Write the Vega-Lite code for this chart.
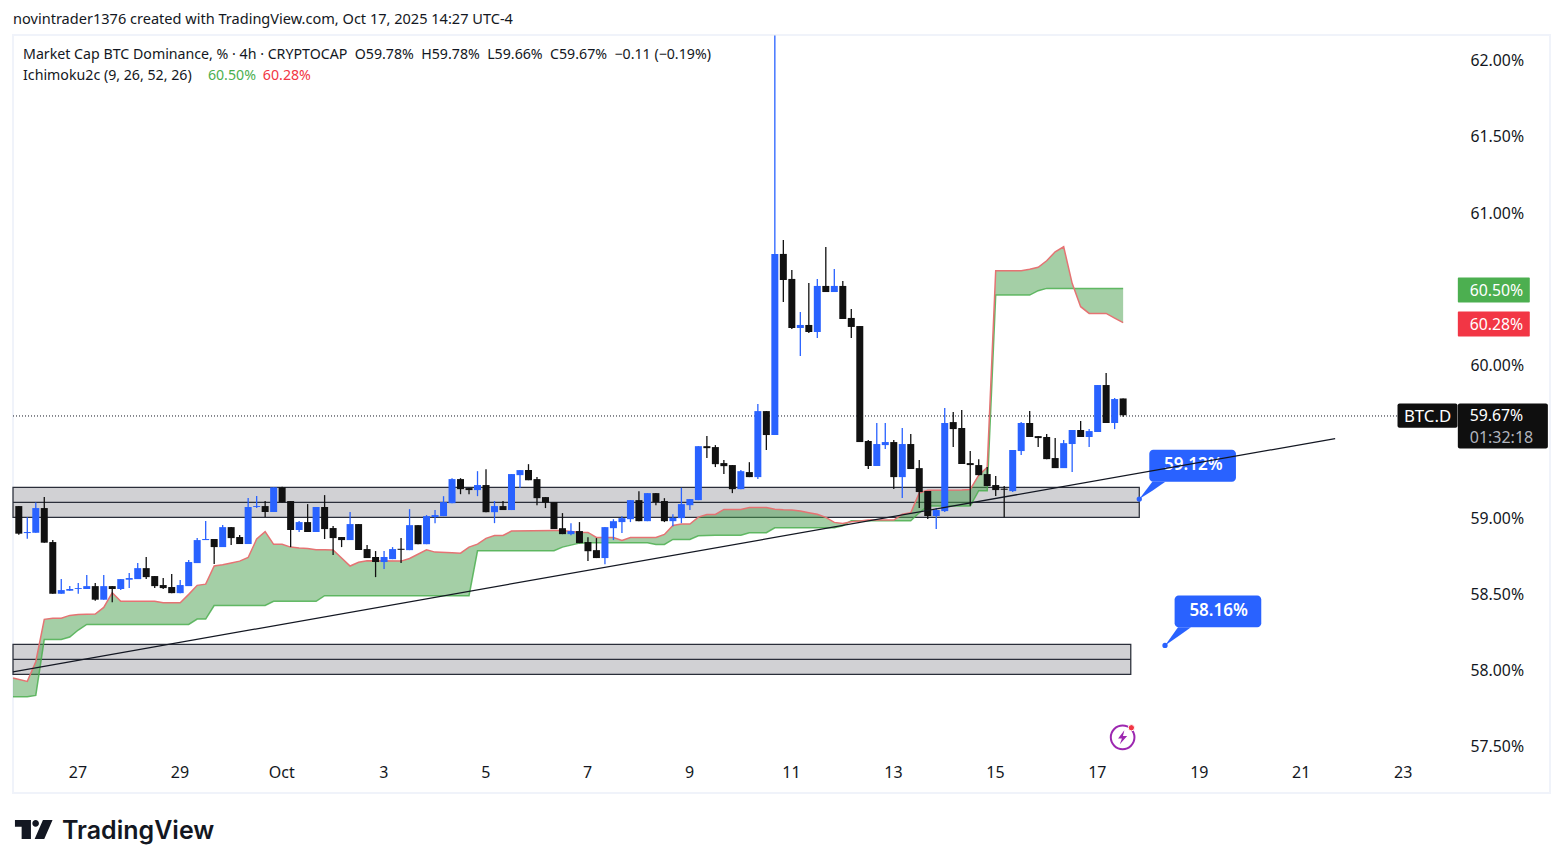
{
  "$schema": "https://vega.github.io/schema/vega-lite/v6.json",
  "width": 1537,
  "height": 758,
  "autosize": "none",
  "padding": {"left": 13, "top": 35, "right": 13, "bottom": 75},
  "background": "#ffffff",
  "title": {"text": "novintrader1376 created with TradingView.com, Oct 17, 2025 14:27 UTC-4", "anchor": "start", "frame": "group", "offset": 7, "fontSize": 14.55, "fontWeight": "normal", "font": "Noto Sans", "color": "#131722"},
  "config": {
    "view": {"stroke": "#f0f3fa", "strokeWidth": 2},
    "font": "Noto Sans",
    "text": {"font": "Noto Sans"}
  },
  "datasets": {
    "candles": [
      {"bar":-7,"o":59.074,"h":59.074,"l":58.886,"c":58.893},
      {"bar":-6,"o":58.897,"h":59.0,"l":58.86,"c":58.904},
      {"bar":-5,"o":58.899,"h":59.098,"l":58.899,"c":59.061},
      {"bar":-4,"o":59.061,"h":59.133,"l":58.834,"c":58.834},
      {"bar":-3,"o":58.838,"h":58.851,"l":58.499,"c":58.499},
      {"bar":-2,"o":58.499,"h":58.595,"l":58.499,"c":58.523},
      {"bar":-1,"o":58.519,"h":58.549,"l":58.519,"c":58.53},
      {"bar":0,"o":58.53,"h":58.569,"l":58.499,"c":58.536},
      {"bar":1,"o":58.53,"h":58.622,"l":58.53,"c":58.549},
      {"bar":2,"o":58.549,"h":58.569,"l":58.453,"c":58.46},
      {"bar":3,"o":58.46,"h":58.622,"l":58.46,"c":58.549},
      {"bar":4,"o":58.549,"h":58.549,"l":58.444,"c":58.53},
      {"bar":5,"o":58.53,"h":58.595,"l":58.523,"c":58.595},
      {"bar":6,"o":58.591,"h":58.635,"l":58.536,"c":58.602},
      {"bar":7,"o":58.595,"h":58.7,"l":58.595,"c":58.667},
      {"bar":8,"o":58.667,"h":58.74,"l":58.595,"c":58.608},
      {"bar":9,"o":58.615,"h":58.615,"l":58.536,"c":58.549},
      {"bar":10,"o":58.556,"h":58.602,"l":58.53,"c":58.536},
      {"bar":11,"o":58.543,"h":58.628,"l":58.503,"c":58.503},
      {"bar":12,"o":58.503,"h":58.589,"l":58.503,"c":58.556},
      {"bar":13,"o":58.549,"h":58.72,"l":58.549,"c":58.707},
      {"bar":14,"o":58.7,"h":58.864,"l":58.7,"c":58.851},
      {"bar":15,"o":58.851,"h":58.976,"l":58.851,"c":58.858},
      {"bar":16,"o":58.858,"h":58.858,"l":58.694,"c":58.805},
      {"bar":17,"o":58.805,"h":58.95,"l":58.805,"c":58.936},
      {"bar":18,"o":58.936,"h":58.936,"l":58.818,"c":58.864},
      {"bar":19,"o":58.871,"h":58.884,"l":58.825,"c":58.825},
      {"bar":20,"o":58.825,"h":59.127,"l":58.825,"c":59.068},
      {"bar":21,"o":59.068,"h":59.14,"l":59.061,"c":59.074},
      {"bar":22,"o":59.074,"h":59.107,"l":59.002,"c":59.035},
      {"bar":23,"o":59.035,"h":59.197,"l":59.035,"c":59.197},
      {"bar":24,"o":59.197,"h":59.2,"l":59.098,"c":59.098},
      {"bar":25,"o":59.107,"h":59.107,"l":58.805,"c":58.917},
      {"bar":26,"o":58.917,"h":58.976,"l":58.904,"c":58.969},
      {"bar":27,"o":58.969,"h":59.087,"l":58.904,"c":58.904},
      {"bar":28,"o":58.904,"h":59.068,"l":58.904,"c":59.068},
      {"bar":29,"o":59.068,"h":59.146,"l":58.858,"c":58.923},
      {"bar":30,"o":58.93,"h":58.943,"l":58.753,"c":58.864},
      {"bar":31,"o":58.871,"h":58.871,"l":58.805,"c":58.851},
      {"bar":32,"o":58.851,"h":59.035,"l":58.851,"c":58.956},
      {"bar":33,"o":58.956,"h":58.956,"l":58.786,"c":58.786},
      {"bar":34,"o":58.792,"h":58.818,"l":58.733,"c":58.733},
      {"bar":35,"o":58.74,"h":58.779,"l":58.608,"c":58.707},
      {"bar":36,"o":58.707,"h":58.779,"l":58.661,"c":58.74},
      {"bar":37,"o":58.726,"h":58.805,"l":58.726,"c":58.792},
      {"bar":38,"o":58.794,"h":58.864,"l":58.7,"c":58.787},
      {"bar":39,"o":58.785,"h":59.054,"l":58.785,"c":58.949},
      {"bar":40,"o":58.949,"h":58.949,"l":58.824,"c":58.824},
      {"bar":41,"o":58.824,"h":59.015,"l":58.824,"c":59.008},
      {"bar":42,"o":59.002,"h":59.048,"l":58.962,"c":59.015},
      {"bar":43,"o":59.008,"h":59.139,"l":59.008,"c":59.1},
      {"bar":44,"o":59.093,"h":59.257,"l":59.093,"c":59.251},
      {"bar":45,"o":59.251,"h":59.257,"l":59.152,"c":59.185},
      {"bar":46,"o":59.192,"h":59.192,"l":59.152,"c":59.179},
      {"bar":47,"o":59.179,"h":59.303,"l":59.139,"c":59.212},
      {"bar":48,"o":59.212,"h":59.316,"l":59.034,"c":59.034},
      {"bar":49,"o":59.034,"h":59.107,"l":58.962,"c":59.074},
      {"bar":50,"o":59.074,"h":59.107,"l":59.048,"c":59.048},
      {"bar":51,"o":59.048,"h":59.284,"l":59.048,"c":59.284},
      {"bar":52,"o":59.277,"h":59.31,"l":59.192,"c":59.31},
      {"bar":53,"o":59.31,"h":59.349,"l":59.244,"c":59.244},
      {"bar":54,"o":59.251,"h":59.264,"l":59.08,"c":59.126},
      {"bar":55,"o":59.133,"h":59.133,"l":59.061,"c":59.096},
      {"bar":56,"o":59.1,"h":59.1,"l":58.923,"c":58.923},
      {"bar":57,"o":58.929,"h":59.028,"l":58.89,"c":58.89},
      {"bar":58,"o":58.89,"h":58.962,"l":58.883,"c":58.91},
      {"bar":59,"o":58.91,"h":58.969,"l":58.831,"c":58.831},
      {"bar":60,"o":58.838,"h":58.87,"l":58.713,"c":58.778},
      {"bar":61,"o":58.785,"h":58.864,"l":58.733,"c":58.733},
      {"bar":62,"o":58.733,"h":58.936,"l":58.693,"c":58.936},
      {"bar":63,"o":58.929,"h":58.988,"l":58.851,"c":58.975},
      {"bar":64,"o":58.969,"h":59.008,"l":58.897,"c":58.995},
      {"bar":65,"o":58.988,"h":59.113,"l":58.969,"c":59.113},
      {"bar":66,"o":59.113,"h":59.172,"l":58.975,"c":58.975},
      {"bar":67,"o":58.975,"h":59.159,"l":58.975,"c":59.159},
      {"bar":68,"o":59.159,"h":59.159,"l":59.08,"c":59.1},
      {"bar":69,"o":59.107,"h":59.126,"l":58.969,"c":58.975},
      {"bar":70,"o":58.975,"h":59.021,"l":58.942,"c":58.997},
      {"bar":71,"o":58.995,"h":59.194,"l":58.962,"c":59.087},
      {"bar":72,"o":59.08,"h":59.12,"l":59.048,"c":59.12},
      {"bar":73,"o":59.113,"h":59.467,"l":59.113,"c":59.467},
      {"bar":74,"o":59.467,"h":59.533,"l":59.389,"c":59.454},
      {"bar":75,"o":59.461,"h":59.474,"l":59.33,"c":59.349},
      {"bar":76,"o":59.356,"h":59.376,"l":59.284,"c":59.336},
      {"bar":77,"o":59.343,"h":59.343,"l":59.159,"c":59.185},
      {"bar":78,"o":59.185,"h":59.31,"l":59.185,"c":59.303},
      {"bar":79,"o":59.297,"h":59.362,"l":59.264,"c":59.264},
      {"bar":80,"o":59.264,"h":59.743,"l":59.251,"c":59.697},
      {"bar":81,"o":59.697,"h":59.697,"l":59.442,"c":59.54},
      {"bar":82,"o":59.54,"h":62.16,"l":59.54,"c":60.728},
      {"bar":83,"o":60.728,"h":60.819,"l":60.413,"c":60.557},
      {"bar":84,"o":60.564,"h":60.623,"l":60.235,"c":60.242},
      {"bar":85,"o":60.242,"h":60.347,"l":60.058,"c":60.262},
      {"bar":86,"o":60.262,"h":60.537,"l":60.209,"c":60.216},
      {"bar":87,"o":60.216,"h":60.564,"l":60.176,"c":60.518},
      {"bar":88,"o":60.518,"h":60.773,"l":60.478,"c":60.478},
      {"bar":89,"o":60.478,"h":60.629,"l":60.478,"c":60.518},
      {"bar":90,"o":60.518,"h":60.55,"l":60.301,"c":60.301},
      {"bar":91,"o":60.308,"h":60.367,"l":60.176,"c":60.249},
      {"bar":92,"o":60.255,"h":60.255,"l":59.494,"c":59.494},
      {"bar":93,"o":59.501,"h":59.507,"l":59.317,"c":59.337},
      {"bar":94,"o":59.337,"h":59.619,"l":59.337,"c":59.481},
      {"bar":95,"o":59.474,"h":59.619,"l":59.448,"c":59.494},
      {"bar":96,"o":59.494,"h":59.507,"l":59.186,"c":59.264},
      {"bar":97,"o":59.264,"h":59.586,"l":59.127,"c":59.481},
      {"bar":98,"o":59.481,"h":59.547,"l":59.317,"c":59.317},
      {"bar":99,"o":59.323,"h":59.376,"l":59.061,"c":59.166},
      {"bar":100,"o":59.173,"h":59.173,"l":58.989,"c":59.009},
      {"bar":101,"o":59.009,"h":59.061,"l":58.923,"c":59.048},
      {"bar":102,"o":59.041,"h":59.717,"l":59.035,"c":59.619},
      {"bar":103,"o":59.625,"h":59.691,"l":59.461,"c":59.579},
      {"bar":104,"o":59.586,"h":59.704,"l":59.35,"c":59.35},
      {"bar":105,"o":59.356,"h":59.435,"l":59.076,"c":59.343},
      {"bar":106,"o":59.343,"h":59.382,"l":59.277,"c":59.277},
      {"bar":107,"o":59.284,"h":59.33,"l":59.205,"c":59.205},
      {"bar":108,"o":59.212,"h":59.271,"l":59.14,"c":59.179},
      {"bar":109,"o":59.188,"h":59.205,"l":59.0,"c":59.181},
      {"bar":110,"o":59.172,"h":59.442,"l":59.166,"c":59.442},
      {"bar":111,"o":59.435,"h":59.625,"l":59.409,"c":59.619},
      {"bar":112,"o":59.619,"h":59.697,"l":59.527,"c":59.527},
      {"bar":113,"o":59.533,"h":59.533,"l":59.461,"c":59.52},
      {"bar":114,"o":59.527,"h":59.546,"l":59.382,"c":59.382},
      {"bar":115,"o":59.389,"h":59.52,"l":59.323,"c":59.323},
      {"bar":116,"o":59.323,"h":59.507,"l":59.323,"c":59.487},
      {"bar":117,"o":59.481,"h":59.573,"l":59.297,"c":59.573},
      {"bar":118,"o":59.573,"h":59.632,"l":59.527,"c":59.527},
      {"bar":119,"o":59.527,"h":59.579,"l":59.461,"c":59.566},
      {"bar":120,"o":59.56,"h":59.868,"l":59.56,"c":59.868},
      {"bar":121,"o":59.868,"h":59.947,"l":59.619,"c":59.619},
      {"bar":122,"o":59.619,"h":59.783,"l":59.579,"c":59.776},
      {"bar":123,"o":59.78,"h":59.78,"l":59.66,"c":59.67}
    ],
    "cloud": [
      {"bar":-7.68,"a":57.946,"b":57.823},{"bar":-6,"a":57.924,"b":57.823},{"bar":-5,"a":58.053,"b":57.832},
      {"bar":-4,"a":58.331,"b":58.199},{"bar":-3,"a":58.339,"b":58.199},{"bar":-2,"a":58.339,"b":58.199},
      {"bar":-1,"a":58.357,"b":58.215},{"bar":0,"a":58.363,"b":58.261},{"bar":1,"a":58.365,"b":58.298},
      {"bar":2,"a":58.366,"b":58.298},{"bar":3,"a":58.409,"b":58.298},{"bar":4,"a":58.506,"b":58.298},
      {"bar":5,"a":58.449,"b":58.298},{"bar":9,"a":58.449,"b":58.298},{"bar":10,"a":58.44,"b":58.298},
      {"bar":12,"a":58.44,"b":58.298},{"bar":13,"a":58.495,"b":58.298},{"bar":14,"a":58.554,"b":58.333},
      {"bar":15,"a":58.562,"b":58.333},{"bar":16,"a":58.681,"b":58.422},{"bar":17,"a":58.689,"b":58.422},
      {"bar":18,"a":58.701,"b":58.422},{"bar":19,"a":58.713,"b":58.422},{"bar":20,"a":58.737,"b":58.422},
      {"bar":21,"a":58.858,"b":58.422},{"bar":22,"a":58.906,"b":58.422},{"bar":23,"a":58.823,"b":58.449},
      {"bar":24,"a":58.823,"b":58.449},{"bar":25,"a":58.805,"b":58.449},{"bar":26,"a":58.799,"b":58.449},
      {"bar":27,"a":58.796,"b":58.449},{"bar":28,"a":58.788,"b":58.449},{"bar":29,"a":58.787,"b":58.486},
      {"bar":30,"a":58.786,"b":58.486},{"bar":32,"a":58.681,"b":58.486},{"bar":33,"a":58.705,"b":58.486},
      {"bar":34,"a":58.716,"b":58.486},{"bar":38,"a":58.713,"b":58.486},{"bar":39,"a":58.73,"b":58.486},
      {"bar":41,"a":58.787,"b":58.486},{"bar":42,"a":58.772,"b":58.486},{"bar":44,"a":58.768,"b":58.486},
      {"bar":45,"a":58.765,"b":58.486},{"bar":46,"a":58.805,"b":58.486},{"bar":47,"a":58.824,"b":58.781},
      {"bar":48,"a":58.862,"b":58.781},{"bar":49,"a":58.881,"b":58.781},{"bar":50,"a":58.881,"b":58.781},
      {"bar":51,"a":58.91,"b":58.781},{"bar":56,"a":58.914,"b":58.781},{"bar":57,"a":58.914,"b":58.805},
      {"bar":58,"a":58.908,"b":58.818},{"bar":59,"a":58.903,"b":58.831},{"bar":60,"a":58.901,"b":58.833},
      {"bar":61,"a":58.868,"b":58.833},{"bar":63,"a":58.868,"b":58.833},{"bar":64,"a":58.848,"b":58.833},
      {"bar":65,"a":58.868,"b":58.833},{"bar":67,"a":58.868,"b":58.833},{"bar":68,"a":58.868,"b":58.822},
      {"bar":69,"a":58.888,"b":58.822},{"bar":70,"a":58.947,"b":58.855},{"bar":71,"a":58.956,"b":58.855},
      {"bar":72,"a":58.956,"b":58.855},{"bar":73,"a":59.002,"b":58.879},{"bar":74,"a":59.019,"b":58.881},
      {"bar":75,"a":59.019,"b":58.883},{"bar":76,"a":59.052,"b":58.883},{"bar":78,"a":59.052,"b":58.883},
      {"bar":79,"a":59.065,"b":58.899},{"bar":81,"a":59.065,"b":58.899},{"bar":82,"a":59.054,"b":58.932},
      {"bar":83,"a":59.05,"b":58.932},{"bar":84,"a":59.048,"b":58.932},{"bar":85,"a":59.041,"b":58.932},
      {"bar":86,"a":59.03,"b":58.932},{"bar":87,"a":59.02,"b":58.932},{"bar":88,"a":59.0,"b":58.932},
      {"bar":89,"a":58.967,"b":58.932},{"bar":90,"a":58.96,"b":58.945},{"bar":91,"a":58.971,"b":58.978},
      {"bar":92,"a":58.976,"b":58.978},{"bar":93,"a":58.982,"b":58.978},{"bar":96,"a":58.982,"b":58.978},
      {"bar":97,"a":59.02,"b":58.978},{"bar":98,"a":59.03,"b":58.978},{"bar":99,"a":59.16,"b":59.03},
      {"bar":100,"a":59.178,"b":59.074},{"bar":104,"a":59.18,"b":59.074},{"bar":105,"a":59.183,"b":59.074},
      {"bar":106,"a":59.277,"b":59.175},{"bar":107,"a":59.328,"b":59.175},{"bar":108,"a":60.618,"b":60.458},
      {"bar":111,"a":60.618,"b":60.458},{"bar":112,"a":60.627,"b":60.458},{"bar":113,"a":60.64,"b":60.487},
      {"bar":114,"a":60.683,"b":60.502},{"bar":115,"a":60.742,"b":60.502},{"bar":116,"a":60.775,"b":60.502},
      {"bar":117,"a":60.535,"b":60.502},{"bar":118,"a":60.382,"b":60.502},{"bar":119,"a":60.338,"b":60.502},
      {"bar":121,"a":60.338,"b":60.502},{"bar":122,"a":60.307,"b":60.502},{"bar":123,"a":60.277,"b":60.502}
    ],
    "zones": [
      {"from":-7.68,"to":124.9,"top":59.197,"mid":59.098,"bottom":59.0},
      {"from":-7.68,"to":123.9,"top":58.167,"mid":58.068,"bottom":57.97}
    ],
    "callouts": [
      {"from":126.08,"to":136.28,"top":59.444,"bottom":59.234,"cx":131.26,"cy":59.343,"ax":124.9,"ay":59.12,"label":"59.12%"},
      {"from":129.06,"to":139.26,"top":58.488,"bottom":58.279,"cx":134.24,"cy":58.387,"ax":127.93,"ay":58.16,"label":"58.16%"}
    ],
    "pointers": [
      {"id":1,"bar":124.9,"top":59.12,"bottom":59.12},
      {"id":1,"bar":126.44,"top":59.234,"bottom":59.175},
      {"id":1,"bar":127.97,"top":59.234,"bottom":59.234},
      {"id":2,"bar":127.93,"top":58.16,"bottom":58.16},
      {"id":2,"bar":129.46,"top":58.279,"bottom":58.219},
      {"id":2,"bar":130.99,"top":58.279,"bottom":58.279}
    ]
  },
  "encoding": {
    "x": {"field": "bar", "type": "quantitative"}
  },
  "layer": [
    {
      "data": {"name": "zones"},
      "mark": {"type": "rect", "fill": "#d1d1d4", "stroke": "#2a2e39", "strokeWidth": 1.25},
      "encoding": {
        "x": {"field": "from", "type": "quantitative", "scale": {"domain": [-7.682, 173.25], "nice": false, "zero": false, "padding": 0},
          "axis": {"values": [0,12,24,36,48,60,72,84,96,108,120,132,144,156], "title": null, "grid": false, "domain": false, "ticks": false,
            "labelExpr": "datum.value===24?'Oct':''+(datum.value<24?27+datum.value/6:1+(datum.value-24)/6)",
            "labelPadding": -21, "labelOffset": -0.8, "labelBaseline": "middle", "labelFontSize": 16, "labelColor": "#131722", "labelOverlap": false, "labelBound": false, "labelFlush": false, "labelFont": "Noto Sans"}},
        "x2": {"field": "to"},
        "y": {"field": "top", "type": "quantitative", "scale": {"domain": [57.192, 62.164], "nice": false, "zero": false},
          "axis": {"orient": "right", "values": [57.5,58,58.5,59,59.5,60,60.5,61,61.5,62], "title": null, "grid": false, "domain": false, "ticks": false,
            "labelExpr": "datum.value===59.5||datum.value===60.5?'':format(datum.value,'.2f')+'%'",
            "labelPadding": -80, "labelOffset": 0.7, "labelAlign": "left", "labelBaseline": "middle", "labelFontSize": 15.8, "labelColor": "#131722", "labelOverlap": false, "labelBound": false, "labelFont": "Noto Sans"}},
        "y2": {"field": "bottom"}
      }
    },
    {
      "data": {"name": "zones"},
      "mark": {"type": "rule", "stroke": "#2a2e39", "strokeWidth": 1.25},
      "encoding": {
        "x": {"field": "from", "type": "quantitative"},
        "x2": {"field": "to"},
        "y": {"field": "mid", "type": "quantitative"}
      }
    },
    {
      "data": {"name": "cloud"},
      "mark": {"type": "area", "fill": "#4a9f4e", "fillOpacity": 0.5, "stroke": null},
      "encoding": {"y": {"field": "a", "type": "quantitative"}, "y2": {"field": "b"}}
    },
    {
      "data": {"name": "cloud"},
      "mark": {"type": "line", "stroke": "#4caf50", "strokeWidth": 1.5, "opacity": 0.85},
      "encoding": {"y": {"field": "b", "type": "quantitative"}}
    },
    {
      "data": {"name": "cloud"},
      "mark": {"type": "line", "stroke": "#e57373", "strokeWidth": 1.5},
      "encoding": {"y": {"field": "a", "type": "quantitative"}}
    },
    {
      "data": {"values": [{"from": -7.682, "to": 155.3, "price": 59.665}]},
      "mark": {"type": "rule", "stroke": "#131722", "strokeWidth": 1, "strokeDash": [1, 2]},
      "encoding": {
        "x": {"field": "from", "type": "quantitative"},
        "x2": {"field": "to"},
        "y": {"field": "price", "type": "quantitative"}
      }
    },
    {
      "data": {"name": "candles"},
      "mark": {"type": "rule", "strokeWidth": 1.3},
      "encoding": {
        "y": {"field": "l", "type": "quantitative"},
        "y2": {"field": "h"},
        "color": {"condition": {"test": "datum.c>datum.o", "value": "#2962ff"}, "value": "#111111"}
      }
    },
    {
      "data": {"name": "candles"},
      "mark": {"type": "bar", "size": 7},
      "encoding": {
        "y": {"field": "o", "type": "quantitative"},
        "y2": {"field": "c"},
        "color": {"condition": {"test": "datum.c>datum.o", "value": "#2962ff"}, "value": "#111111"}
      }
    },
    {
      "data": {"name": "pointers"},
      "mark": {"type": "area", "fill": "#2962ff", "stroke": null},
      "encoding": {
        "y": {"field": "top", "type": "quantitative"},
        "y2": {"field": "bottom"},
        "detail": {"field": "id"}
      }
    },
    {
      "data": {"name": "callouts"},
      "mark": {"type": "rect", "fill": "#2962ff", "cornerRadius": 4},
      "encoding": {
        "x": {"field": "from", "type": "quantitative"},
        "x2": {"field": "to"},
        "y": {"field": "top", "type": "quantitative"},
        "y2": {"field": "bottom"}
      }
    },
    {
      "data": {"name": "callouts"},
      "mark": {"type": "point", "filled": true, "fill": "#2962ff", "size": 28, "opacity": 1},
      "encoding": {
        "x": {"field": "ax", "type": "quantitative"},
        "y": {"field": "ay", "type": "quantitative"}
      }
    },
    {
      "data": {"name": "callouts"},
      "mark": {"type": "text", "color": "#ffffff", "fontSize": 17, "fontWeight": 600, "font": "Noto Sans"},
      "encoding": {
        "x": {"field": "cx", "type": "quantitative"},
        "y": {"field": "cy", "type": "quantitative"},
        "text": {"field": "label"}
      }
    },
    {
      "data": {"values": [{"bar": -7.682, "price": 57.987}, {"bar": 147.96, "price": 59.517}]},
      "mark": {"type": "line", "stroke": "#131722", "strokeWidth": 1.25},
      "encoding": {"y": {"field": "price", "type": "quantitative"}}
    },
    {
      "data": {"values": [{"from": 162.4, "to": 170.87, "top": 60.574, "bottom": 60.41}]},
      "mark": {"type": "rect", "fill": "#4caf50", "cornerRadius": 1},
      "encoding": {
        "x": {"field": "from", "type": "quantitative"},
        "x2": {"field": "to"},
        "y": {"field": "top", "type": "quantitative"},
        "y2": {"field": "bottom"}
      }
    },
    {
      "data": {"values": [{"from": 162.4, "to": 170.87, "top": 60.35, "bottom": 60.186}]},
      "mark": {"type": "rect", "fill": "#f23645", "cornerRadius": 1},
      "encoding": {
        "x": {"field": "from", "type": "quantitative"},
        "x2": {"field": "to"},
        "y": {"field": "top", "type": "quantitative"},
        "y2": {"field": "bottom"}
      }
    },
    {
      "data": {"values": [
        {"from": 155.3, "to": 162.36, "top": 59.747, "bottom": 59.587},
        {"from": 162.4, "to": 173.0, "top": 59.747, "bottom": 59.452}
      ]},
      "mark": {"type": "rect", "fill": "#0f0f0f", "cornerRadius": 2},
      "encoding": {
        "x": {"field": "from", "type": "quantitative"},
        "x2": {"field": "to"},
        "y": {"field": "top", "type": "quantitative"},
        "y2": {"field": "bottom"}
      }
    },
    {
      "data": {"values": [
        {"bar": 163.8, "price": 60.488, "label": "60.50%"},
        {"bar": 163.8, "price": 60.265, "label": "60.28%"},
        {"bar": 163.8, "price": 59.665, "label": "59.67%"}
      ]},
      "mark": {"type": "text", "align": "left", "baseline": "middle", "color": "#ffffff", "fontSize": 15.8, "font": "Noto Sans"},
      "encoding": {"y": {"field": "price", "type": "quantitative"}, "text": {"field": "label"}}
    },
    {
      "data": {"values": [{"bar": 163.8, "price": 59.522, "label": "01:32:18"}]},
      "mark": {"type": "text", "align": "left", "baseline": "middle", "color": "#b2b5be", "fontSize": 16, "font": "Noto Sans"},
      "encoding": {"y": {"field": "price", "type": "quantitative"}, "text": {"field": "label"}}
    },
    {
      "data": {"values": [{"bar": 158.83, "price": 59.657, "label": "BTC.D"}]},
      "mark": {"type": "text", "align": "center", "baseline": "middle", "color": "#ffffff", "fontSize": 16.8, "font": "Noto Sans"},
      "encoding": {"y": {"field": "price", "type": "quantitative"}, "text": {"field": "label"}}
    },
    {
      "data": {"values": [
        {"bar": -6.5, "price": 62.033, "label": "Market Cap BTC Dominance, % · 4h · CRYPTOCAP\u00a0\u00a0O59.78%\u00a0\u00a0H59.78%\u00a0\u00a0L59.66%\u00a0\u00a0C59.67%\u00a0\u00a0−0.11 (−0.19%)"},
        {"bar": -6.5, "price": 61.895, "label": "Ichimoku2c (9, 26, 52, 26)"}
      ]},
      "mark": {"type": "text", "align": "left", "baseline": "middle", "color": "#131722", "fontSize": 14.2, "font": "Noto Sans"},
      "encoding": {"y": {"field": "price", "type": "quantitative"}, "text": {"field": "label"}}
    },
    {
      "data": {"values": [{"bar": 15.26, "price": 61.895, "label": "60.50%"}]},
      "mark": {"type": "text", "align": "left", "baseline": "middle", "color": "#4caf50", "fontSize": 14.2, "font": "Noto Sans"},
      "encoding": {"y": {"field": "price", "type": "quantitative"}, "text": {"field": "label"}}
    },
    {
      "data": {"values": [{"bar": 21.73, "price": 61.895, "label": "60.28%"}]},
      "mark": {"type": "text", "align": "left", "baseline": "middle", "color": "#f23645", "fontSize": 14.2, "font": "Noto Sans"},
      "encoding": {"y": {"field": "price", "type": "quantitative"}, "text": {"field": "label"}}
    },
    {
      "data": {"values": [{"bar": -5.24, "price": 56.952}]},
      "mark": {"type": "point", "filled": true, "fill": "#131722", "opacity": 1, "size": 1414,
        "shape": "M-1,-.505L-.149,-.505L-.149,.505L-.644,.505L-.644,-.149L-1,-.149Z M-.075,-.33A.176,.176 0 1 0 .277,-.33A.176,.176 0 1 0 -.075,-.33Z M.489,-.505L1,-.505L.559,.505L.048,.505Z"},
      "encoding": {"y": {"field": "price", "type": "quantitative"}}
    },
    {
      "data": {"values": [{"bar": -1.92, "price": 56.942, "label": "TradingView"}]},
      "mark": {"type": "text", "align": "left", "baseline": "middle", "color": "#131722", "fontSize": 25, "fontWeight": 600, "font": "Inter"},
      "encoding": {"y": {"field": "price", "type": "quantitative"}, "text": {"field": "label"}}
    },
    {
      "data": {"values": [{"bar": 122.94, "price": 57.557}]},
      "mark": {"type": "point", "filled": false, "stroke": "#9c27b0", "strokeWidth": 2, "size": 560, "opacity": 1},
      "encoding": {"y": {"field": "price", "type": "quantitative"}}
    },
    {
      "data": {"values": [{"bar": 122.94, "price": 57.557}]},
      "mark": {"type": "point", "filled": true, "fill": "#9c27b0", "opacity": 1, "size": 196,
        "shape": "M.25,-1L-.65,.15L-.1,.15L-.4,1L.65,-.2L.05,-.2Z"},
      "encoding": {"y": {"field": "price", "type": "quantitative"}}
    },
    {
      "data": {"values": [{"bar": 123.97, "price": 57.62}]},
      "mark": {"type": "point", "filled": true, "fill": "#f23645", "stroke": "#ffffff", "strokeWidth": 1, "opacity": 1, "size": 40},
      "encoding": {"y": {"field": "price", "type": "quantitative"}}
    }
  ]
}
